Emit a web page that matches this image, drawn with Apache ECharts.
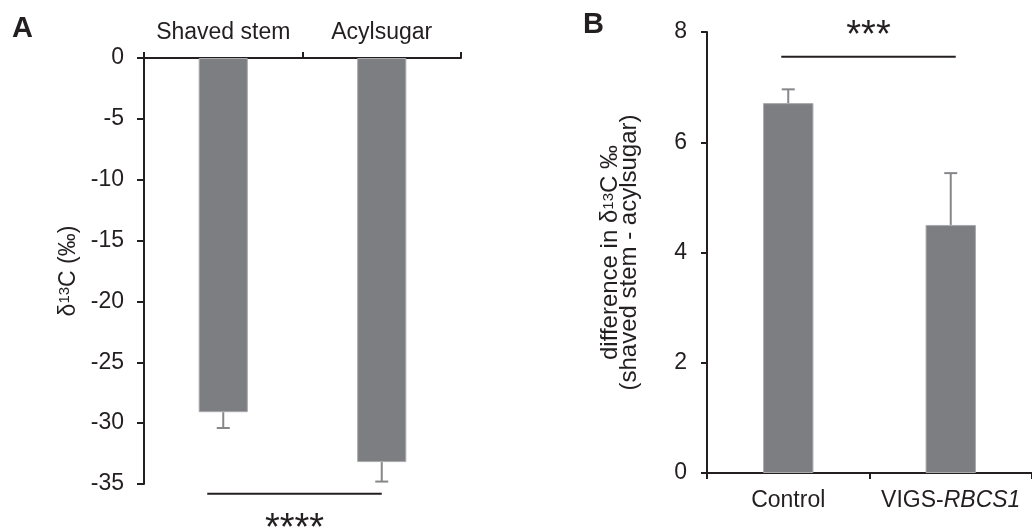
<!DOCTYPE html>
<html>
<head>
<meta charset="utf-8">
<script src="https://cdn.jsdelivr.net/npm/echarts@6/dist/echarts.min.js"></script>
<style>
html,body{margin:0;padding:0;background:#fff;}
#chart{width:1032px;height:528px;}
</style>
</head>
<body>
<div id="chart"></div>
<script>
// ---- Data ----
const catsA = ['Shaved stem', 'Acylsugar'];
const valsA = [-29.1, -33.2];
const errsA = [1.3, 1.6];
const ticksA = { min: -35, max: 0, interval: 5 };
const sigA = { from: 0, to: 1, y: -35.8, label: '****' };

const catsB = ['Control', 'VIGS-RBCS1'];
const valsB = [6.71, 4.50];
const errsB = [0.25, 0.94];
const ticksB = { min: 0, max: 8, interval: 2 };
const sigB = { from: 0, to: 1, y: 7.55, label: '***' };

// ---- Styles ----
const FONT = '"Liberation Sans", Arial, Helvetica, sans-serif';
const BAR = '#7d7e82';
const ERR = '#86878b';
const AXIS = '#231f20';
const TXT = '#231f20';
const FS = 23;

const chart = echarts.init(document.getElementById('chart'));

function errItem(params, api) {
  const i = api.value(0), v = api.value(1), e = api.value(2);
  const end = v < 0 ? v - e : v + e;
  const p0 = api.coord([i, v]);
  const p1 = api.coord([i, end]);
  const hw = 6.5;
  return {
    type: 'group',
    children: [
      { type: 'line', shape: { x1: p0[0], y1: p0[1], x2: p1[0], y2: p1[1] }, style: { stroke: ERR, lineWidth: 2 } },
      { type: 'line', shape: { x1: p1[0] - hw, y1: p1[1], x2: p1[0] + hw, y2: p1[1] }, style: { stroke: ERR, lineWidth: 2 } }
    ]
  };
}

function sigItemFactory(sig, offL, offR, textDy, fontSize) {
  return function (params, api) {
    const a = api.coord([api.value(0), api.value(2)]);
    const b = api.coord([api.value(1), api.value(2)]);
    const x1 = a[0] + offL, x2 = b[0] + offR;
    return {
      type: 'group',
      children: [
        { type: 'line', shape: { x1: x1, y1: a[1], x2: x2, y2: a[1] }, style: { stroke: AXIS, lineWidth: 2 } },
        { type: 'text', x: (x1 + x2) / 2, y: a[1] + textDy,
          style: { text: sig.label, fill: TXT, font: 'normal ' + fontSize + 'px ' + FONT, align: 'center', verticalAlign: 'middle' } }
      ]
    };
  };
}

const axisLineStyle = { show: true, lineStyle: { color: AXIS, width: 2 } };

const option = {
  animation: false,
  textStyle: { fontFamily: FONT, color: TXT },
  title: [
    { text: 'A', left: 7, top: 9, textStyle: { fontFamily: FONT, fontSize: 29, fontWeight: 'bold', color: TXT } },
    { text: 'B', left: 578, top: 5, textStyle: { fontFamily: FONT, fontSize: 29, fontWeight: 'bold', color: TXT } }
  ],
  grid: [
    { left: 144, top: 58, width: 317, height: 426, containLabel: false },
    { left: 707, top: 32, width: 326, height: 441, containLabel: false }
  ],
  xAxis: [
    {
      type: 'category', gridIndex: 0, data: catsA, position: 'top',
      axisLine: Object.assign({ onZero: false }, axisLineStyle),
      axisTick: { show: true, inside: false, length: 6, lineStyle: { color: AXIS, width: 2 } },
      axisLabel: { interval: 0, margin: 14, fontSize: FS, color: TXT, fontFamily: FONT },
      splitLine: { show: false }
    },
    {
      type: 'category', gridIndex: 1, data: catsB, position: 'bottom',
      axisLine: Object.assign({ onZero: false }, axisLineStyle),
      axisTick: { show: true, inside: false, length: 6, lineStyle: { color: AXIS, width: 2 } },
      axisLabel: {
        interval: 0, margin: 16, fontSize: FS, color: TXT, fontFamily: FONT,
        formatter: function (v) {
          const k = v.indexOf('-');
          if (k > 0 && v.indexOf('VIGS') === 0) return '{n|' + v.slice(0, k + 1) + '}{i|' + v.slice(k + 1) + '}';
          return '{n|' + v + '}';
        },
        rich: {
          n: { fontSize: FS, fontFamily: FONT, color: TXT },
          i: { fontSize: FS, fontFamily: FONT, color: TXT, fontStyle: 'italic' }
        }
      },
      splitLine: { show: false }
    }
  ],
  yAxis: [
    {
      type: 'value', gridIndex: 0, min: ticksA.min, max: ticksA.max, interval: ticksA.interval,
      axisLine: axisLineStyle,
      axisTick: { show: true, inside: false, length: 7, lineStyle: { color: AXIS, width: 2 } },
      axisLabel: { margin: 20, fontSize: FS, color: TXT, fontFamily: FONT },
      splitLine: { show: false },
      name: '{a|δ}{s|13}{a|C (‰)}', nameLocation: 'middle', nameGap: 64,
      nameTextStyle: {
        rich: {
          a: { fontSize: 23, fontFamily: FONT, color: TXT },
          s: { fontSize: 15, fontFamily: FONT, color: TXT, verticalAlign: 'top', padding: [0, 0, 8, 0] }
        }
      }
    },
    {
      type: 'value', gridIndex: 1, min: ticksB.min, max: ticksB.max, interval: ticksB.interval,
      axisLine: axisLineStyle,
      axisTick: { show: true, inside: false, length: 6, lineStyle: { color: AXIS, width: 2 } },
      axisLabel: { margin: 20, fontSize: FS, color: TXT, fontFamily: FONT },
      splitLine: { show: false },
      name: '{a|difference in δ}{s|13}{a|C ‰}\n{a|(shaved stem - acylsugar)}', nameLocation: 'middle', nameGap: 68,
      nameTextStyle: {
        lineHeight: 19,
        rich: {
          a: { fontSize: 24, fontFamily: FONT, color: TXT, lineHeight: 19 },
          s: { fontSize: 15, fontFamily: FONT, color: TXT, verticalAlign: 'top', lineHeight: 19, padding: [0, 0, 8, 0] }
        }
      }
    }
  ],
  series: [
    {
      type: 'bar', xAxisIndex: 0, yAxisIndex: 0, data: valsA, barWidth: '31%',
      itemStyle: { color: BAR, borderColor: '#a9aaad', borderWidth: 1 }
    },
    {
      type: 'custom', xAxisIndex: 0, yAxisIndex: 0, renderItem: errItem, clip: false, z: 3,
      data: valsA.map((v, i) => [i, v, errsA[i]])
    },
    {
      type: 'custom', xAxisIndex: 0, yAxisIndex: 0, renderItem: sigItemFactory(sigA, -16, 0, 36, 38), clip: false,
      data: [[sigA.from, sigA.to, sigA.y]]
    },
    {
      type: 'bar', xAxisIndex: 1, yAxisIndex: 1, data: valsB, barWidth: '31%',
      itemStyle: { color: BAR, borderColor: '#a9aaad', borderWidth: 1 }
    },
    {
      type: 'custom', xAxisIndex: 1, yAxisIndex: 1, renderItem: errItem, clip: false, z: 3,
      data: valsB.map((v, i) => [i, v, errsB[i]])
    },
    {
      type: 'custom', xAxisIndex: 1, yAxisIndex: 1, renderItem: sigItemFactory(sigB, -7, 5, -20, 38), clip: false,
      data: [[sigB.from, sigB.to, sigB.y]]
    }
  ]
};
chart.setOption(option);
</script>
</body>
</html>
